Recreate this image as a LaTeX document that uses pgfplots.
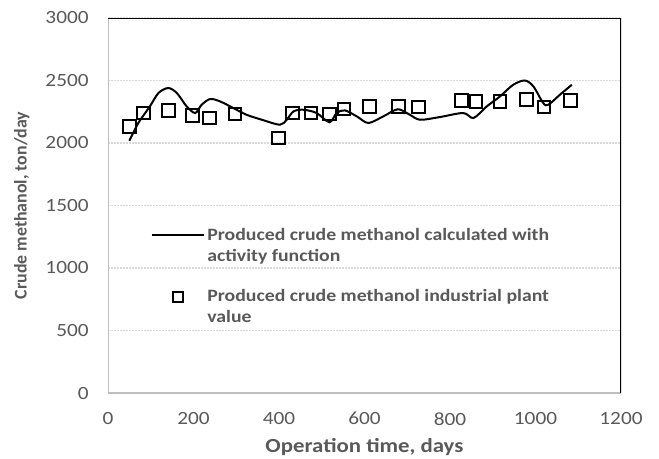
\documentclass[border=0pt]{standalone}
\usepackage{pgfplots}
\pgfplotsset{compat=1.18}
\usepackage{fontspec}
\setmainfont{Carlito}
\newfontfamily\wide{Carlito}[FakeStretch=1.14]
\definecolor{txt}{HTML}{595959}
\definecolor{gridc}{HTML}{D9D9D9}
\definecolor{axc}{HTML}{BFBFBF}
\pgfplotsset{
  linekey/.style={legend image code/.code={\draw[##1, yshift=7.9pt] (0pt,0pt) -- (39pt,0pt);}},
  markkey/.style={legend image code/.code={\draw[##1, mark size=3.6pt, mark repeat=2, mark phase=2, yshift=7.9pt]
    plot coordinates {(0pt,0pt) (19.5pt,0pt) (39pt,0pt)};}},
}

\begin{document}
\begin{tikzpicture}
\begin{axis}[
  scale only axis,
  width=384.75pt, height=281.25pt,
  xmin=0, xmax=1200, ymin=0, ymax=3000,
  xtick={0,200,...,1200}, ytick={0,500,...,3000},
  axis line style={draw=none},
  major tick length=0pt,
  ymajorgrids,
  grid style={gridc, line width=1pt, dash pattern=on 1.5pt off 0.75pt},
  /pgf/number format/assume math mode=true,
  /pgf/number format/set thousands separator={},
  tick label style={font=\wide\fontsize{14}{16}\selectfont, text=txt},
  yticklabel style={xshift=-11pt},
  xticklabel style={yshift=-11pt},
  xlabel={Operation time, days},
  ylabel={Crude methanol, ton/day},
  xlabel style={font=\wide\fontsize{15}{17}\selectfont\bfseries, text=txt,
    at={(axis description cs:0.5,-0.144)}, anchor=center},
  ylabel style={font=\fontsize{13.4}{15}\selectfont\bfseries, text=txt,
    at={(axis description cs:-0.168,0.5)}, anchor=center, rotate=0},
  legend cell align=left,
  legend style={draw=none, fill=none, at={(axis description cs:0.075,0.455)},
    anchor=north west, font=\wide\fontsize{13}{15.75}\selectfont\bfseries, text=txt,
    nodes={align=left}, row sep=16pt},
]
\coordinate (bl) at (rel axis cs:0,0);
\coordinate (tr) at (rel axis cs:1,1);
\addplot[black, line width=1.5pt, smooth, tension=0.5, linekey]
coordinates {
(50,2018) (71,2160) (98,2293) (118,2400) (141,2440) (161,2400) (184,2293)
(204,2240) (219,2306) (239,2352) (262,2333) (293,2280) (324,2226) (360,2186)
(402,2146) (418,2186) (434,2253) (457,2266) (488,2240) (518,2166) (535,2240)
(554,2261) (582,2213) (609,2160) (644,2213) (678,2270) (706,2226) (730,2186)
(777,2208) (831,2240) (855,2200) (886,2293) (917,2373) (948,2466) (975,2500)
(995,2453) (1018,2320) (1030,2306) (1057,2386) (1085,2466)
};
\addlegendentry{Produced crude methanol calculated with\\activity function}
\addplot[only marks, mark=square, mark size=4.8pt,
  mark options={line width=1.5pt, black}, markkey]
coordinates {
(50,2133) (83,2240) (141,2261) (197,2218) (237,2200) (297,2232) (398,2040)
(432,2240) (475,2240) (518,2232) (552,2272) (611,2293) (679,2293) (726,2288)
(827,2341) (861,2333) (917,2333) (979,2346) (1020,2288) (1082,2338)
};
\addlegendentry{Produced crude methanol industrial plant\\value}
\draw[axc, line width=1pt] (rel axis cs:0,1) -- (rel axis cs:0,0) -- (rel axis cs:1,0);
\draw[black, line width=1.5pt] (rel axis cs:0,1) -- (rel axis cs:1,1) -- (rel axis cs:1,0);
\end{axis}
\pgfresetboundingbox
\path ([shift={(-81pt,-48.75pt)}]bl) rectangle ([shift={(28.5pt,13.5pt)}]tr);
\end{tikzpicture}
\end{document}
